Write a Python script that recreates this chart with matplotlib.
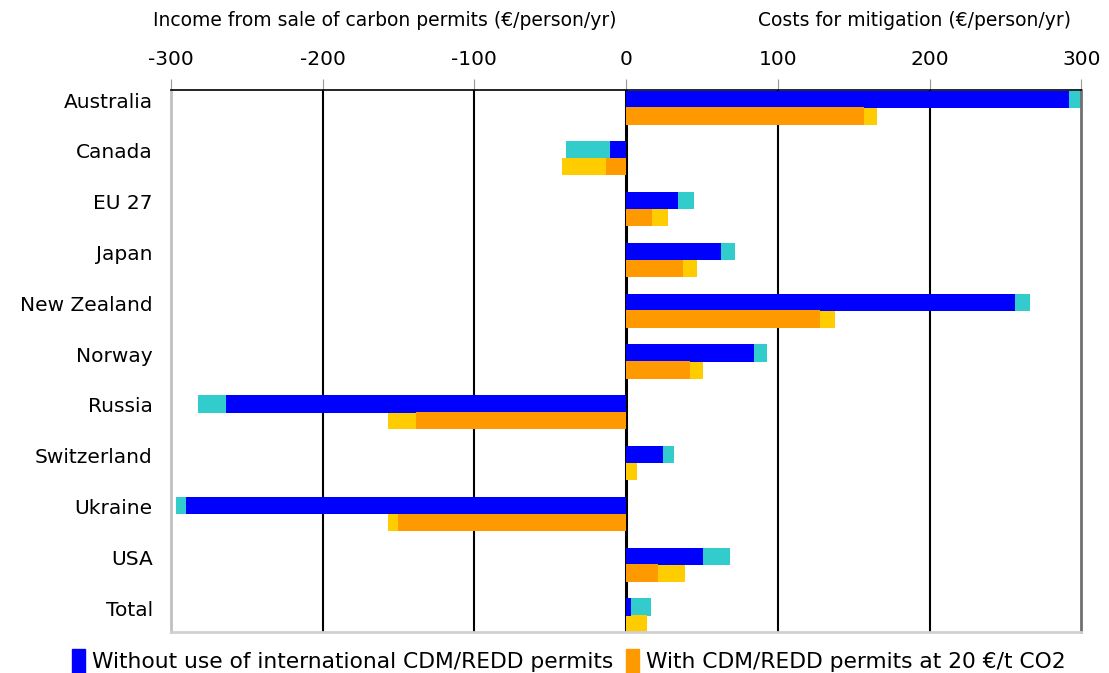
import matplotlib.pyplot as plt
from matplotlib.patches import Patch

countries = ['Australia', 'Canada', 'EU 27', 'Japan', 'New Zealand', 'Norway',
             'Russia', 'Switzerland', 'Ukraine', 'USA', 'Total']

# without CDM/REDD permits: domestic part and total incl. extra
without_base = [292, -10.5, 34.4, 62.8, 256, 84.2, -263.4, 24.4, -290, 50.8, 3.5]
without_total = [299.5, -39.3, 44.9, 72, 266, 92.8, -282, 31.6, -296.5, 68.5, 16.6]
# with CDM/REDD permits at 20 EUR/t CO2
with_base = [157, -12.9, 17.4, 37.6, 127.6, 42.1, -138.5, 0, -150.4, 21.2, 0]
with_total = [165.6, -41.9, 27.8, 46.8, 138, 50.7, -157, 7.5, -157, 39, 14]

narrow = ['Liberation Sans Narrow', 'DejaVu Sans']

fig = plt.figure(figsize=(11.09, 6.73), dpi=100)
ax = fig.add_axes([0.154, 0.061, 0.821, 0.805])

pos = list(range(len(countries)))
h = 0.34
y_blue = [p - 0.02 for p in pos]
y_orange = [p + 0.31 for p in pos]

# gridlines
for g in [-200, -100, 100, 200]:
    ax.axvline(g, color='black', lw=1.5, zorder=1)
ax.axvline(0, color='black', lw=2.2, zorder=1)

ax.barh(y_blue, without_total, height=h, color='#33CCCC', zorder=2)
ax.barh(y_blue, without_base, height=h, color='#0000FF', zorder=3)
ax.barh(y_orange, with_total, height=h, color='#FFCC00', zorder=2)
ax.barh(y_orange, with_base, height=h, color='#FF9900', zorder=3)

ax.set_xlim(-300, 300)
ax.set_ylim(10.47, -0.197)
ax.set_yticks(pos)
ax.set_yticklabels(countries, fontsize=14.5)
ax.tick_params(axis='y', length=0, pad=13)

ax.xaxis.tick_top()
ax.set_xticks([-300, -200, -100, 0, 100, 200, 300])
ax.set_xticklabels(['-300', '-200', '-100', '0', '100', '200', '300'],
                   fontsize=14.5, family=narrow)
ax.tick_params(axis='x', length=8, color='#999999', pad=7)

ax.spines['top'].set_color('black')
ax.spines['top'].set_linewidth(1.2)
ax.spines['left'].set_color('#c0c0c0')
ax.spines['left'].set_linewidth(2)
ax.spines['bottom'].set_color('#d0d0d0')
ax.spines['bottom'].set_linewidth(2)
ax.spines['right'].set_color('#707070')
ax.spines['right'].set_linewidth(2)

fig.text(0.347, 0.97, 'Income from sale of carbon permits (€/person/yr)',
         ha='center', va='center', fontsize=13.5, family=narrow)
fig.text(0.825, 0.97, 'Costs for mitigation (€/person/yr)',
         ha='center', va='center', fontsize=13.5, family=narrow)

handles = [Patch(color='#0000FF', label='Without use of international CDM/REDD permits'),
           Patch(color='#FF9900', label='With CDM/REDD permits at 20 €/t CO2')]
fig.legend(handles=handles, loc='center', bbox_to_anchor=(0.513, 0.018), ncol=2,
           frameon=False, handlelength=0.6, handleheight=1.3, handletextpad=0.3,
           columnspacing=0.6, prop={'family': narrow, 'size': 15.7})

fig.savefig('out.png', dpi=100)
